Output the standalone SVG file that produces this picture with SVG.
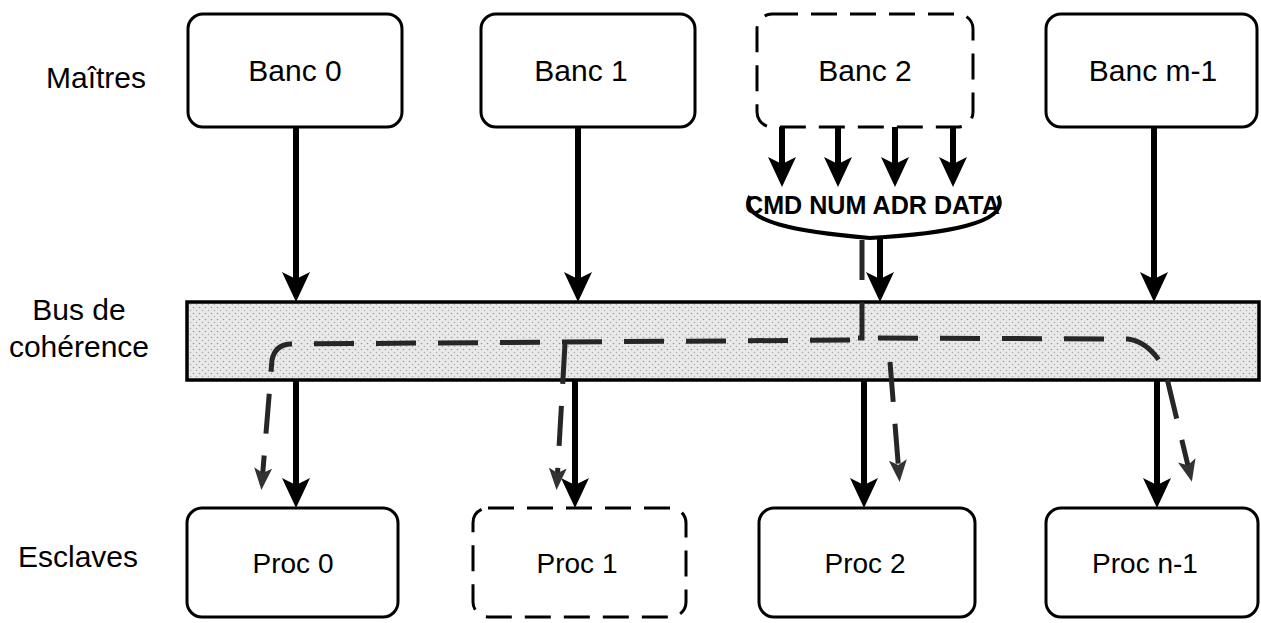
<svg xmlns="http://www.w3.org/2000/svg" width="1261" height="623" viewBox="0 0 1261 623">
  <style>
    .box { fill: #ffffff; stroke: #000; stroke-width: 3; }
    .dbox { fill: #ffffff; stroke: #000; stroke-width: 3; stroke-dasharray: 26 13; }
    .side { font-family: "Liberation Sans", Arial, sans-serif; font-size: 30px; fill: #000; text-anchor: middle; }
    .bl { font-family: "Liberation Sans", Arial, sans-serif; font-size: 30px; fill: #000; text-anchor: middle; }
    .pl { font-family: "Liberation Sans", Arial, sans-serif; font-size: 28px; fill: #000; text-anchor: middle; }
    .bold { font-family: "Liberation Sans", Arial, sans-serif; font-size: 25px; font-weight: bold; fill: #000; }
    .solid { stroke: #000; stroke-width: 6; fill: none; marker-end: url(#ah); }
    .dash { stroke: #262626; stroke-width: 5; fill: none; stroke-dasharray: 40 22; }
    .dasharrow { stroke: #262626; stroke-width: 5; fill: none; stroke-dasharray: 40 22; marker-end: url(#ahs); }
  </style>
  <defs>
    <marker id="ah" markerUnits="userSpaceOnUse" markerWidth="30" markerHeight="28" refX="18" refY="14" orient="auto" viewBox="0 0 30 28">
      <path d="M0,0 L30,14 L0,28 L7,14 Z" fill="#000"/>
    </marker>
    <marker id="ahs" markerUnits="userSpaceOnUse" markerWidth="22" markerHeight="18" refX="14" refY="9" orient="auto" viewBox="0 0 22 18">
      <path d="M0,0 L22,9 L0,18 L5,9 Z" fill="#333"/>
    </marker>
    <pattern id="stip" width="6" height="6" patternUnits="userSpaceOnUse">
      <rect width="6" height="6" fill="#e9e9e9"/>
      <circle cx="1.5" cy="1.5" r="0.8" fill="#9a9a9a"/>
      <circle cx="4.5" cy="4.5" r="0.8" fill="#b0b0b0"/>
    </pattern>
  </defs>

  <g id="labels">
    <text class="side" x="96" y="88">Maîtres</text>
    <text class="side" x="79" y="320">Bus de</text>
    <text class="side" x="79" y="357">cohérence</text>
    <text class="side" x="78" y="567">Esclaves</text>
  </g>

  <g id="bus">
    <rect x="187" y="302" width="1072" height="78" fill="url(#stip)" stroke="#000" stroke-width="3.5"/>
  </g>

  <g id="banc0">
    <rect class="box" x="188" y="14" width="214" height="113" rx="15"/>
    <text class="bl" x="295" y="81">Banc 0</text>
  </g>
  <g id="banc1">
    <rect class="box" x="481" y="14" width="214" height="113" rx="15"/>
    <text class="bl" x="581" y="81">Banc 1</text>
  </g>
  <g id="banc2">
    <rect class="dbox" x="757" y="14" width="216" height="113" rx="15"/>
    <text class="bl" x="865" y="81">Banc 2</text>
  </g>
  <g id="bancm1">
    <rect class="box" x="1046" y="14" width="211" height="113" rx="15"/>
    <text class="bl" x="1153" y="81">Banc m-1</text>
  </g>

  <g id="proc0">
    <rect class="box" x="187" y="508" width="211" height="109" rx="15"/>
    <text class="pl" x="293" y="573">Proc 0</text>
  </g>
  <g id="proc1">
    <rect class="dbox" x="473" y="508" width="213" height="109" rx="15"/>
    <text class="pl" x="577" y="573">Proc 1</text>
  </g>
  <g id="proc2">
    <rect class="box" x="759" y="508" width="216" height="109" rx="15"/>
    <text class="pl" x="865" y="573">Proc 2</text>
  </g>
  <g id="procn1">
    <rect class="box" x="1046" y="508" width="212" height="109" rx="15"/>
    <text class="pl" x="1145" y="573">Proc n-1</text>
  </g>

  <g id="signals">
    <text class="bold" x="745" y="214" textLength="255" lengthAdjust="spacingAndGlyphs">CMD NUM ADR DATA</text>
    <path d="M 750 196 C 738 222, 800 232, 870 238 C 940 234, 1012 224, 998 196" fill="none" stroke="#000" stroke-width="4"/>
  </g>

  <g id="connectors">
    <line class="solid" x1="296" y1="127" x2="296" y2="290"/>
    <line class="solid" x1="578" y1="127" x2="578" y2="290"/>
    <line class="solid" x1="1154" y1="127" x2="1154" y2="290"/>
    <line class="solid" x1="880" y1="238" x2="880" y2="290"/>
    <line class="solid" x1="782" y1="127" x2="782" y2="175"/>
    <line class="solid" x1="838" y1="127" x2="838" y2="175"/>
    <line class="solid" x1="895" y1="127" x2="895" y2="175"/>
    <line class="solid" x1="953" y1="127" x2="953" y2="175"/>
    <line class="solid" x1="296" y1="380" x2="296" y2="496"/>
    <line class="solid" x1="575" y1="380" x2="575" y2="496"/>
    <line class="solid" x1="864" y1="380" x2="864" y2="496"/>
    <line class="solid" x1="1157" y1="380" x2="1157" y2="496"/>

    <path class="dash" d="M 862 240 L 862 338 L 850 338"/>
    <path class="dasharrow" d="M 850 340 L 290 344 Q 275 345 272 360 L 262 482"/>
    <path class="dasharrow" d="M 565 344 L 557 482"/>
    <path class="dasharrow" d="M 878 338 L 1128 339 Q 1150 342 1165 370 L 1190 474"/>
    <path class="dasharrow" d="M 890 362 L 899 474"/>
  </g>
</svg>
